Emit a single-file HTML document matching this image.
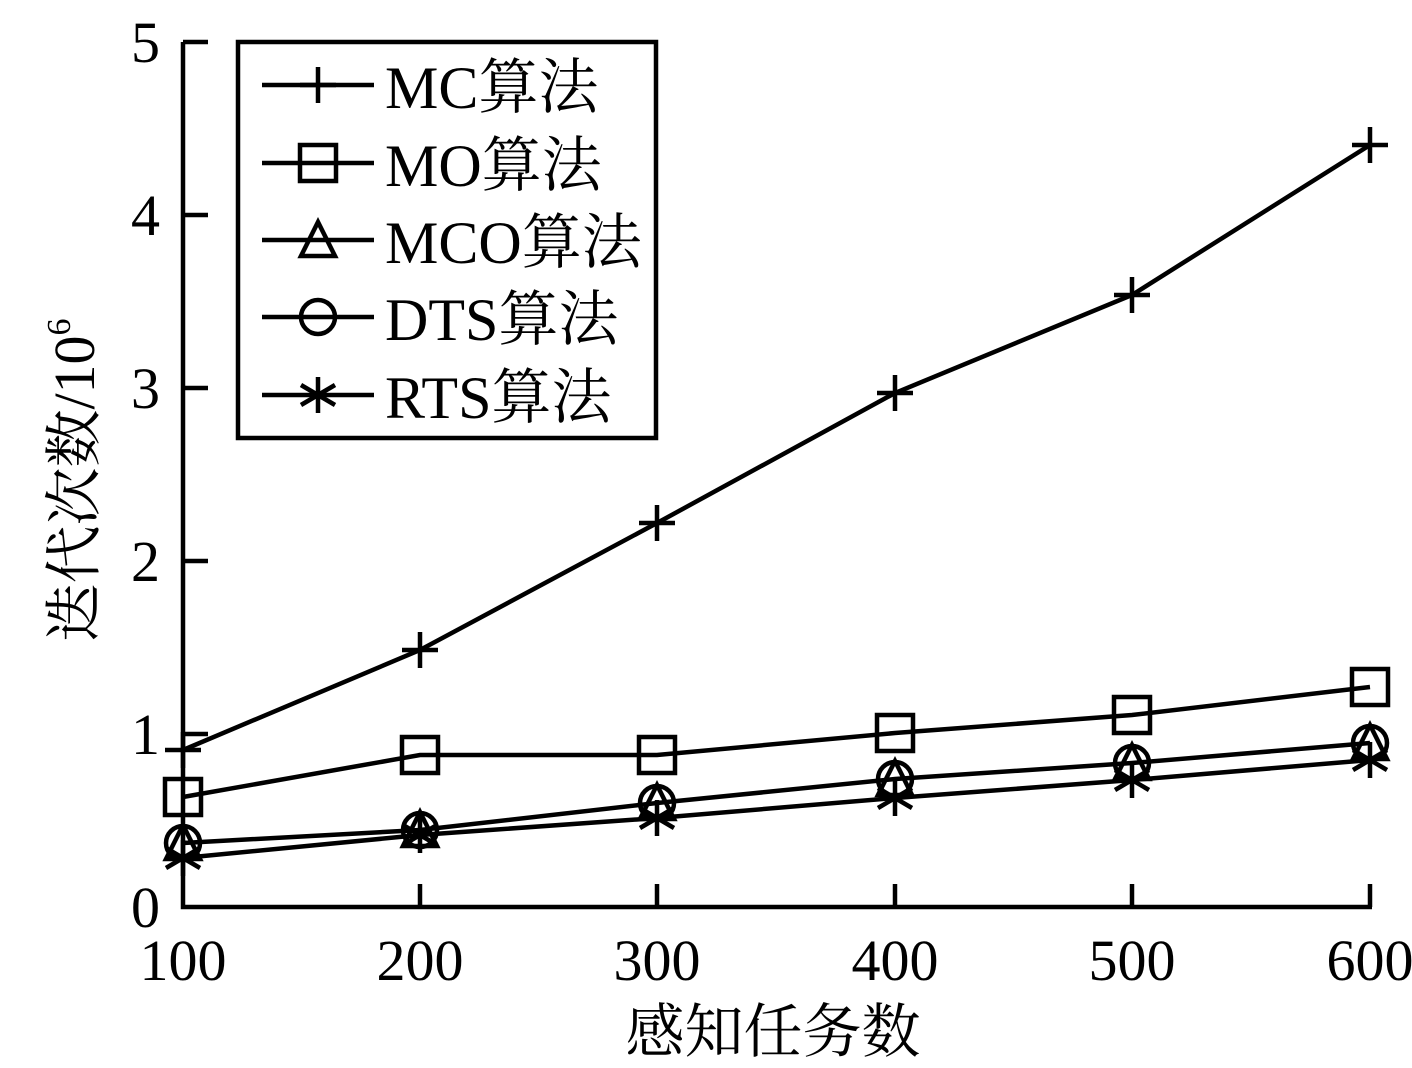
<!DOCTYPE html>
<html><head><meta charset="utf-8"><style>
html,body{margin:0;padding:0;background:#fff}
svg{display:block}
text{font-family:"Liberation Serif","Noto Serif CJK SC",serif;fill:#000}
</style></head><body>
<svg width="1412" height="1068" viewBox="0 0 1412 1068" xmlns="http://www.w3.org/2000/svg">
<defs>
<g id="plus"><path d="M-18,0H18M0,-18V18" stroke="#000" stroke-width="4.5" fill="none"/></g>
<g id="sq"><rect x="-18" y="-18" width="36" height="36" stroke="#000" stroke-width="4.5" fill="none"/></g>
<g id="tri"><path d="M0,-18L17,16H-17Z" stroke="#000" stroke-width="4.5" fill="none"/></g>
<g id="circ"><circle r="17" stroke="#000" stroke-width="4.5" fill="none"/></g>
<g id="star"><path d="M0,-18V18M-17,-10L17,10M-17,10L17,-10" stroke="#000" stroke-width="4.5" fill="none"/></g>
</defs>
<path d="M183,42V907H1372" stroke="#000" stroke-width="4.5" fill="none"/>
<g stroke="#000" stroke-width="4.5">
<line x1="183" y1="42" x2="208" y2="42"/>
<line x1="183" y1="215" x2="208" y2="215"/>
<line x1="183" y1="388" x2="208" y2="388"/>
<line x1="183" y1="561" x2="208" y2="561"/>
<line x1="183" y1="734" x2="208" y2="734"/>
<line x1="420" y1="907" x2="420" y2="884"/>
<line x1="657" y1="907" x2="657" y2="884"/>
<line x1="895" y1="907" x2="895" y2="884"/>
<line x1="1132" y1="907" x2="1132" y2="884"/>
<line x1="1370" y1="907" x2="1370" y2="884"/>
</g>
<g font-size="58" text-anchor="end">
<text x="160" y="927">0</text>
<text x="160" y="754">1</text>
<text x="160" y="581">2</text>
<text x="160" y="408">3</text>
<text x="160" y="235">4</text>
<text x="160" y="62">5</text>
</g>
<g font-size="58" text-anchor="middle">
<text x="183" y="980">100</text>
<text x="420" y="980">200</text>
<text x="657" y="980">300</text>
<text x="895" y="980">400</text>
<text x="1132" y="980">500</text>
<text x="1370" y="980">600</text>
</g>
<text x="773" y="1052" font-size="59" text-anchor="middle">感知任务数</text>
<text transform="translate(94,480) rotate(-90)" font-size="58" text-anchor="middle">迭代次数/10<tspan font-size="34" dy="-24">6</tspan></text>
<g stroke="#000" stroke-width="4.5" fill="none">
<polyline points="183,750 420,650 657,523 895,393 1132,295 1370,145"/>
<polyline points="183,797 420,755 657,755 895,733 1132,715 1370,687"/>
<polyline points="183,843 420,830 657,803 895,779 1132,763 1370,743"/>
<polyline points="183,858 420,835 657,818 895,798 1132,780 1370,760"/>
</g>
<g>
<use href="#plus" x="183" y="750"/><use href="#plus" x="420" y="650"/><use href="#plus" x="657" y="523"/><use href="#plus" x="895" y="393"/><use href="#plus" x="1132" y="295"/><use href="#plus" x="1370" y="145"/>
<use href="#sq" x="183" y="797"/><use href="#sq" x="420" y="755"/><use href="#sq" x="657" y="755"/><use href="#sq" x="895" y="733"/><use href="#sq" x="1132" y="715"/><use href="#sq" x="1370" y="687"/>
<use href="#tri" x="183" y="843"/><use href="#tri" x="420" y="830"/><use href="#tri" x="657" y="803"/><use href="#tri" x="895" y="779"/><use href="#tri" x="1132" y="763"/><use href="#tri" x="1370" y="743"/>
<use href="#circ" x="183" y="843"/><use href="#circ" x="420" y="830"/><use href="#circ" x="657" y="803"/><use href="#circ" x="895" y="779"/><use href="#circ" x="1132" y="763"/><use href="#circ" x="1370" y="743"/>
<use href="#star" x="183" y="858"/><use href="#star" x="420" y="835"/><use href="#star" x="657" y="818"/><use href="#star" x="895" y="798"/><use href="#star" x="1132" y="780"/><use href="#star" x="1370" y="760"/>
</g>
<rect x="238" y="42" width="418" height="396" stroke="#000" stroke-width="4.5" fill="#fff"/>
<g stroke="#000" stroke-width="4.5">
<line x1="262" y1="85" x2="374" y2="85"/>
<line x1="262" y1="163" x2="374" y2="163"/>
<line x1="262" y1="240" x2="374" y2="240"/>
<line x1="262" y1="317" x2="374" y2="317"/>
<line x1="262" y1="395" x2="374" y2="395"/>
</g>
<use href="#plus" x="318" y="85"/>
<use href="#sq" x="318" y="163"/>
<use href="#tri" x="318" y="240"/>
<use href="#circ" x="318" y="317"/>
<use href="#star" x="318" y="395"/>
<g font-size="60">
<text x="385" y="108">MC算法</text>
<text x="385" y="186">MO算法</text>
<text x="385" y="263">MCO算法</text>
<text x="385" y="340">DTS算法</text>
<text x="385" y="418">RTS算法</text>
</g>
</svg>
</body></html>
